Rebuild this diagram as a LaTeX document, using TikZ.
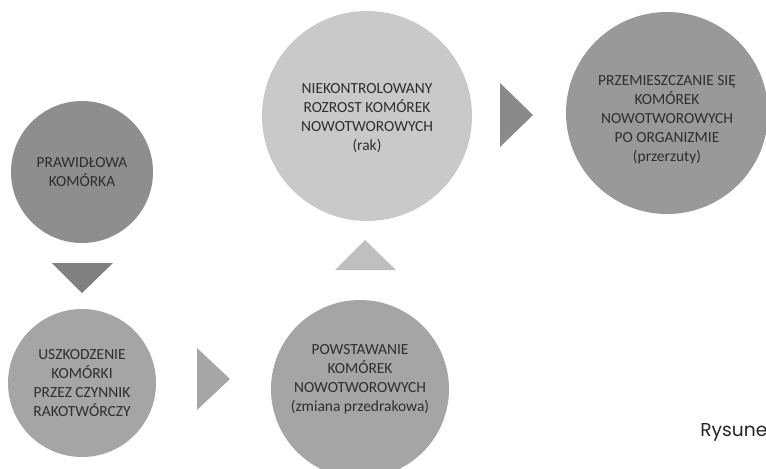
\documentclass[tikz,border=0pt]{standalone}
\usepackage{fontspec}
\setmainfont{Carlito}
\newfontfamily\capfont{Poppins}
\begin{document}
\begin{tikzpicture}[x=0.75pt,y=-0.75pt,
  bubble/.style={circle,inner sep=0pt,align=center,text=black!82,
    font=\fontsize{11.6}{14.3}\selectfont}]
\useasboundingbox (0,0) rectangle (766,468);
\clip (0,0) rectangle (766,468);
\definecolor{cA}{HTML}{8E8E8E}
\definecolor{cB}{HTML}{A5A5A5}
\definecolor{cC}{HTML}{A5A5A5}
\definecolor{cD}{HTML}{C9C9C9}
\definecolor{cE}{HTML}{999999}
\definecolor{tA}{HTML}{808080}
\definecolor{tB}{HTML}{A6A6A6}
\definecolor{tC}{HTML}{BFBFBF}
\definecolor{tD}{HTML}{8A8A8A}
% circles
\fill[cA] (82,172) circle[radius=71];
\node[bubble] (t1) at (82,172) {PRAWIDŁOWA\\KOMÓRKA};
\fill[cB] (82,383) circle[radius=74];
\node[bubble] (t2) at (82,383) {USZKODZENIE\\KOMÓRKI\\PRZEZ CZYNNIK\\RAKOTWÓRCZY};
\fill[cC] (360,389) circle[radius=89];
\node[bubble] (t3) at (360,379) {POWSTAWANIE\\KOMÓREK\\NOWOTWOROWYCH\\(zmiana przedrakowa)};
\fill[cD] (367,116) circle[radius=105];
\node[bubble] (t4) at (367,118) {NIEKONTROLOWANY\\ROZROST KOMÓREK\\NOWOTWOROWYCH\\(rak)};
\fill[cE] (667,113) circle[radius=101];
\node[bubble] (t5) at (667,120) {PRZEMIESZCZANIE SIĘ\\KOMÓREK\\NOWOTWOROWYCH\\PO ORGANIZMIE\\(przerzuty)};
% triangles
\coordinate (a1) at (52,263); \coordinate (a2) at (113,263); \coordinate (a3) at (82,293);
\fill[tA] (a1) -- (a2) -- (a3) -- cycle;
\coordinate (b1) at (197,348); \coordinate (b2) at (197,410); \coordinate (b3) at (230,379);
\fill[tB] (b1) -- (b2) -- (b3) -- cycle;
\coordinate (u1) at (335,270); \coordinate (u2) at (396,270); \coordinate (u3) at (365,240);
\fill[tC] (u1) -- (u2) -- (u3) -- cycle;
\coordinate (r1) at (500,83); \coordinate (r2) at (500,147); \coordinate (r3) at (533,115);
\fill[tD] (r1) -- (r2) -- (r3) -- cycle;
% caption
\node[anchor=base west,inner sep=0pt,text=black!85,font=\capfont\fontsize{14}{16}\selectfont] (cap) at (700,436) {Rysune};
\end{tikzpicture}
\end{document}
